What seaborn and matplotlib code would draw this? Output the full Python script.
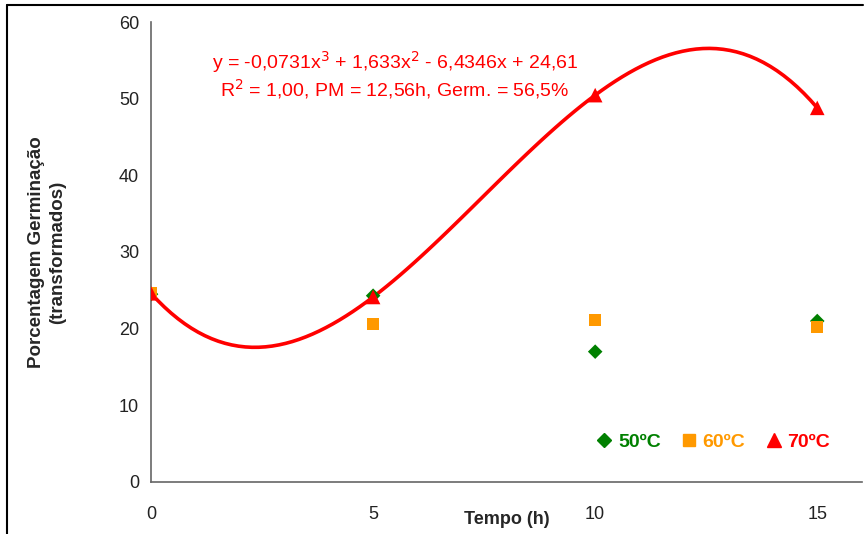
import matplotlib
matplotlib.use("Agg")
import matplotlib.pyplot as plt
import seaborn as sns
import pandas as pd
from matplotlib.lines import Line2D

tempo = [0, 5, 10, 15]
g50 = [24.5, 24.3, 17.0, 21.0]
g60 = [24.7, 20.6, 21.1, 20.2]
g70 = [24.61, 24.13, 50.46, 48.8]
labels = ["50ºC", "60ºC", "70ºC"]
xticks = [0, 5, 10, 15]
yticks = [0, 10, 20, 30, 40, 50, 60]

sns.set_style("white")
plt.rcParams['font.family'] = ['Liberation Sans', 'DejaVu Sans']

fig = plt.figure(figsize=(8.66, 5.34), dpi=100)
ax = fig.add_axes([0.1744, 0.0974, 0.8206, 0.8614])

df = pd.DataFrame({"t": tempo, "g50": g50, "g60": g60, "g70": g70})

# trendline (cubic) for 70ºC
sns.regplot(data=df, x="t", y="g70", order=3, ci=None, scatter=False, truncate=True,
            line_kws=dict(color="#ff0000", lw=2.6), ax=ax)

sns.scatterplot(data=df, x="t", y="g50", marker="D", color="#008000", s=55,
                edgecolor="none", ax=ax, zorder=3)
sns.scatterplot(data=df, x="t", y="g60", marker="s", color="#ff9900", s=75,
                edgecolor="none", ax=ax, zorder=4)
sns.scatterplot(data=df, x="t", y="g70", marker="^", color="#ff0000", s=110,
                edgecolor="none", ax=ax, zorder=5)

ax.set_xlim(0, 16)
ax.set_ylim(0, 60)
ax.set_xticks(xticks)
ax.set_yticks(yticks)
ax.tick_params(axis="both", labelsize=13, colors="#222222", length=5, width=1.2,
               direction="out", color="#777777")
ax.tick_params(axis="x", pad=12)
for s in ["top", "right"]:
    ax.spines[s].set_visible(False)
for s in ["left", "bottom"]:
    ax.spines[s].set_color("#666666")
    ax.spines[s].set_linewidth(1.2)

ax.set_xlabel("")
ax.set_ylabel("Porcentagem Germinação\n(transformados)", fontsize=13.5, fontweight="bold",
              labelpad=38, linespacing=1.3)
fig.text(0.585, 0.028, "Tempo (h)", ha="center", va="center", fontsize=13, fontweight="bold")

ax.text(0.343, 0.912, "y = -0,0731x$^{3}$ + 1,633x$^{2}$ - 6,4346x + 24,61",
        transform=ax.transAxes, color="#ff0000", fontsize=14, ha="center", va="center")
ax.text(0.343, 0.855, "R$^{2}$ = 1,00, PM = 12,56h, Germ. = 56,5%",
        transform=ax.transAxes, color="#ff0000", fontsize=14, ha="center", va="center")

handles = [
    Line2D([], [], marker="D", color="#008000", ls="none", markersize=7),
    Line2D([], [], marker="s", color="#ff9900", ls="none", markersize=8),
    Line2D([], [], marker="^", color="#ff0000", ls="none", markersize=10),
]
leg = ax.legend(handles, labels, loc="lower right", bbox_to_anchor=(0.98, 0.03), ncol=3,
                frameon=False, handletextpad=0.0, columnspacing=0.75, handlelength=1.4,
                prop=dict(size=14, weight="bold"))
for t, c in zip(leg.get_texts(), ["#008000", "#ff9900", "#ff0000"]):
    t.set_color(c)

# outer frame (top and left)
fig.add_artist(Line2D([0.008, 0.996], [0.99, 0.99], transform=fig.transFigure, color="black", lw=1.5))
fig.add_artist(Line2D([0.008, 0.008], [0.0, 0.99], transform=fig.transFigure, color="black", lw=1.5))

fig.savefig("out.png", dpi=100)
